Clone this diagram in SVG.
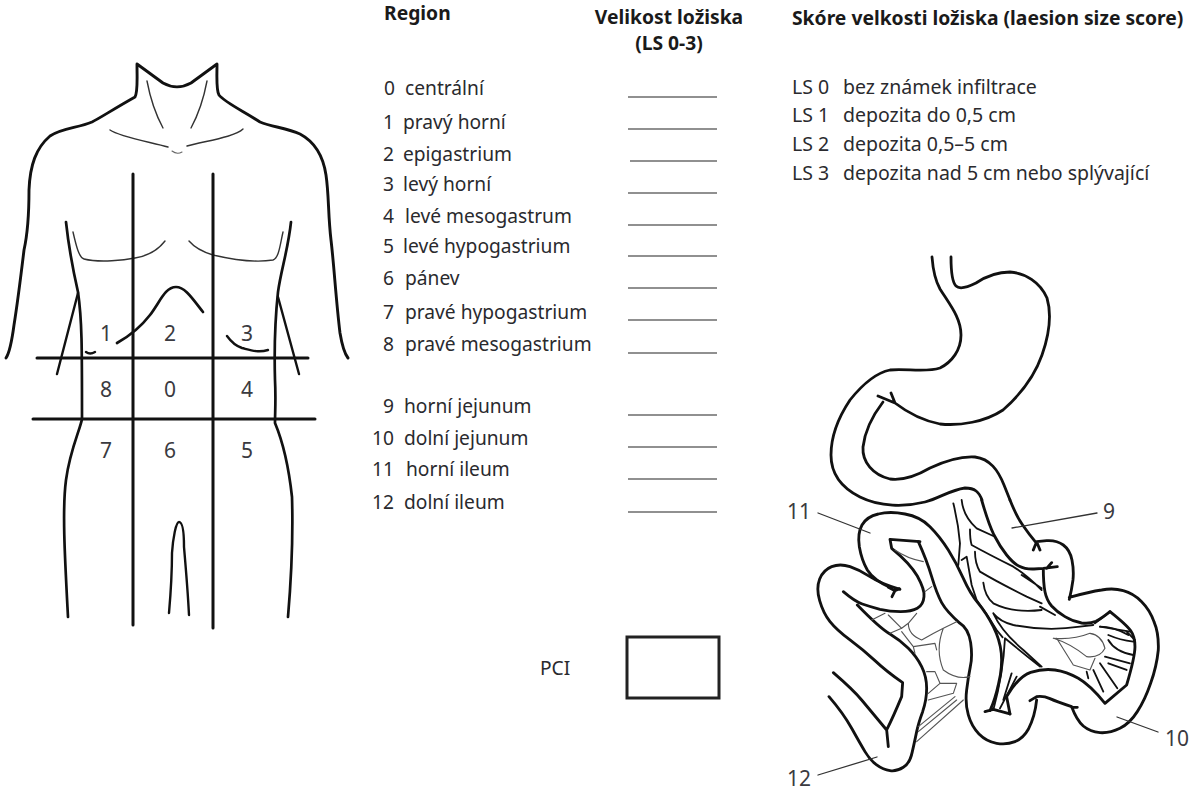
<svg xmlns="http://www.w3.org/2000/svg" width="1190" height="800" viewBox="0 0 1190 800">
<style>
text{font-family:"Noto Sans","Open Sans","Liberation Sans",sans-serif;font-size:19.2px;fill:#2a2a2e}
.b{font-weight:700;fill:#1a1a1a;font-size:19.3px}
.s{font-size:19.5px}
.n{font-size:21px;fill:#3a3a40}
.l{fill:none;stroke:#111;stroke-width:3;stroke-linecap:round;stroke-linejoin:round}
.m{fill:none;stroke:#111;stroke-width:2.4;stroke-linecap:round;stroke-linejoin:round}
.t{fill:none;stroke:#333;stroke-width:1.3;stroke-linecap:round;stroke-linejoin:round}
.g{fill:none;stroke:#666;stroke-width:1.1;stroke-linecap:round;stroke-linejoin:round}
.u{stroke:#222;stroke-width:1.2;fill:none}
.z{fill:none;stroke:#111;stroke-width:8.5;stroke-linecap:round;stroke-linejoin:round}
.y{fill:none;stroke:#111;stroke-width:5.5;stroke-linecap:round;stroke-linejoin:round}
.w{fill:none;stroke:#555;stroke-width:3.4;stroke-linecap:round;stroke-linejoin:round}
</style>
<rect width="1190" height="800" fill="#fff"/>
<g id="body">
<path class="l" d="M6 358C10 352 12 340 14 325C18 300 21 275 24 250C28 232 29 215 29 190C30 165 36 148 50 136C62 128 78 128 92 122C100 118 112 110 135 97C138 92 137 80 137 64L163 83C172 88 182 88 191 83L217 64C217 78 216 90 219 95C224 102 245 112 260 122C272 127 287 128 300 134C315 142 323 155 326 175C329 195 328 215 331 240C334 265 336 300 340 333C342 345 344 353 348 358" style="stroke-width:2.9"/>
<path class="t" d="M147 81C150 97 156 115 163 128M207 81C204 97 198 115 191 128M110 130C120 137 150 142 168 147M243 129C235 137 205 141 187 146" style="stroke-width:1.4"/>
<path class="g" d="M172 151Q177 155 182 152"/>
<path class="l" d="M66 222C69 250 73 270 78 292C82 320 82 345 82 419C80 430 70 450 66 480C62 510 65 560 68 617" style="stroke-width:2.7"/>
<path class="l" d="M291 222C288 250 281 270 278 292C275 320 274 345 275 380C276 400 275 412 275 423C280 435 288 460 292 497C293 530 292 570 288 617" style="stroke-width:2.7"/>
<path class="m" d="M78 293L57 374M278 297L299 374"/>
<path class="t" d="M73 232C76 245 79 258 84 259C100 263 125 260 135 258C148 256 158 250 165 241M283 232C280 245 279 258 273 260C255 263 230 259 213 255C203 252 195 248 189 241" style="stroke-width:1.4"/>
<path class="l" d="M117 343C126 338 140 328 150 315C160 302 165 287 176 287C185 287 192 298 203 312" style="stroke-width:2.7"/>
<path class="m" d="M86 352Q90 355 95 352M227 336C232 343 236 346 242 348C250 350 258 353 268 350"/>
<path class="l" d="M133 174L133 625M213 174L213 628M37 358L308 358M33 419L315 419" style="stroke-width:3"/>
<path class="m" d="M169 613C171 590 172 565 172 553C173 538 176 522 179 522C183 522 184 535 184 547C186 570 188 595 189 615"/>
</g>
<g id="zone-numbers">
<text class="n" x="106" y="341" text-anchor="middle">1</text><text class="n" x="170" y="341" text-anchor="middle">2</text><text class="n" x="247" y="341" text-anchor="middle">3</text>
<text class="n" x="106" y="397" text-anchor="middle">8</text><text class="n" x="170" y="397" text-anchor="middle">0</text><text class="n" x="247" y="397" text-anchor="middle">4</text>
<text class="n" x="106" y="458" text-anchor="middle">7</text><text class="n" x="170" y="458" text-anchor="middle">6</text><text class="n" x="247" y="458" text-anchor="middle">5</text>
</g>
<g id="table">
<text class="b" x="384" y="20">Region</text>
<text class="b" x="669" y="24" text-anchor="middle">Velikost ložiska</text>
<text class="b" x="669" y="50" text-anchor="middle">(LS 0-3)</text>
<text x="384" y="95">0</text><text x="405" y="95">centrální</text>
<text x="383" y="129">1</text><text x="403" y="129">pravý horní</text>
<text x="383" y="161">2</text><text x="403" y="161">epigastrium</text>
<text x="383" y="191">3</text><text x="403" y="191">levý horní</text>
<text x="383" y="223">4</text><text x="405" y="223">levé mesogastrum</text>
<text x="383" y="253">5</text><text x="403" y="253">levé hypogastrium</text>
<text x="383" y="285">6</text><text x="405" y="285">pánev</text>
<text x="383" y="319">7</text><text x="405" y="319">pravé hypogastrium</text>
<text x="383" y="351">8</text><text x="405" y="351">pravé mesogastrium</text>
<text x="383" y="413">9</text><text x="404" y="413">horní jejunum</text>
<text x="372" y="445">10</text><text x="404" y="445">dolní jejunum</text>
<text x="372" y="476">11</text><text x="406" y="476">horní ileum</text>
<text x="372" y="509">12</text><text x="404" y="509">dolní ileum</text>
<path class="u" d="M628 97H717M628 129H717M630 161H717M628 193H717M628 225H717M628 256H717M628 288H717M628 320H717M628 353H717M628 415H717M628 447H717M628 479H717M628 512H717"/>
</g>
<g id="score-legend">
<text class="b" x="792" y="25">Skóre velkosti ložiska (laesion size score)</text>
<text class="s" x="792" y="94">LS 0</text><text class="s" x="843" y="94">bez známek infiltrace</text>
<text class="s" x="792" y="122">LS 1</text><text class="s" x="843" y="122">depozita do 0,5 cm</text>
<text class="s" x="792" y="151">LS 2</text><text class="s" x="843" y="151">depozita 0,5–5 cm</text>
<text class="s" x="792" y="180">LS 3</text><text class="s" x="843" y="180">depozita nad 5 cm nebo splývající</text>
</g>
<g id="pci">
<text x="540" y="675">PCI</text>
<rect x="627" y="637" width="92" height="61" fill="none" stroke="#222" stroke-width="3"/>
</g>
<g id="stomach">
<path class="l" style="stroke-width:2.8" d="M932 257C933 270 935 280 940 289C950 305 961 318 961 335C961 350 952 362 940 368C925 373 905 368 890 370C875 373 862 385 850 400C838 418 831 435 831 455C831 475 842 488 860 497C880 507 905 507 925 502C940 498 950 490 965 488C975 488 979 492 982 500"/>
<path class="l" style="stroke-width:2.8" d="M951 257C951 270 952 282 956 286C960 290 968 287 976 283C985 277 995 272 1010 272C1025 273 1040 282 1047 298C1052 315 1049 335 1042 355C1035 375 1020 395 1003 410C985 422 960 426 940 424C925 421 908 413 895 403L891 393M878 396L895 403"/>
<path class="l" style="stroke-width:2.8" d="M883 402C873 415 865 430 863 447C862 462 873 475 890 479C905 481 918 475 930 468C945 461 960 456 975 457C990 459 998 470 1004 485L1010 500"/>
</g>
<g id="bowel" transform="translate(780 500) scale(.3333)">
<path class="z" d="M605 0Q625 70 642 105Q660 140 680 165Q700 190 718 199Q735 208 762 207L790 205L832 200M815 188L800 205M790 205Q790 250 795 275Q800 300 815 318Q830 335 855 350Q880 365 905 369Q930 372 948 364Q965 355 990 335"/>
<path class="z" d="M690 0Q710 50 728 75Q745 100 770 130M760 150L770 125L780 150M770 125L800 122Q830 120 850 135Q870 150 876 180Q882 210 879 240Q875 270 868 298M868 292Q930 275 965 270Q1000 263 1030 272Q1060 280 1085 305Q1110 330 1122 365Q1137 400 1135 450Q1130 500 1112 550Q1095 600 1072 635Q1050 670 1020 685Q990 700 960 698Q930 695 910 678Q890 660 875 620M875 622H892M875 620Q830 605 810 596Q790 587 770 590L750 602M770 600Q765 650 745 688Q730 715 705 725Q680 735 650 730Q620 725 597 702Q575 680 565 645Q555 610 560 570Q565 530 571 500Q578 470 572 428Q565 385 540 370Q500 335 485 308Q470 280 455 230Q440 180 415 125"/>
<path class="z" d="M325 262L345 272L336 290M358 266L345 272M335 265Q280 240 262 210Q245 180 238 140Q232 100 246 75Q260 50 295 42Q330 33 375 42Q420 50 450 80Q480 110 505 150Q530 190 550 235Q570 280 595 310Q620 340 640 380Q660 420 664 460Q668 500 656 550Q645 600 630 632M615 635L640 628L690 642"/>
<path class="z" d="M420 125L330 118L335 145Q390 190 412 228Q435 270 432 290Q430 315 412 325Q395 335 362 335Q330 335 300 328Q270 320 247 312Q225 305 190 275"/>
<path class="z" d="M360 268Q300 250 270 230Q240 210 210 200Q180 190 155 200Q130 210 119 237Q108 265 119 302Q130 340 150 365Q170 390 210 420Q250 450 285 482Q320 515 368 548L365 590Q340 650 320 690L325 740M160 518Q220 570 245 600Q270 630 320 690"/>
<path class="z" d="M147 590Q190 640 215 685Q240 730 255 755Q270 780 290 795Q310 810 330 812Q350 815 370 802Q390 790 397 755Q405 720 410 695Q415 670 428 635Q440 600 440 565Q440 530 425 500Q410 470 385 445Q360 420 330 402Q300 385 232 315"/>
<path class="z" d="M690 642L680 590Q715 530 752 517Q790 505 825 510Q860 515 895 535Q930 555 975 610L1040 555Q1065 470 1065 440Q1065 410 1052 392Q1040 375 990 335"/>
<path class="y" d="M520 10Q535 70 540 130L535 195M545 0Q550 50 590 85L640 108M570 88Q570 120 575 135Q620 160 700 200Q740 225 785 270M585 155Q585 190 600 215Q650 245 740 290L785 310M610 248Q615 290 640 310Q700 340 785 330M545 180L560 170L575 255L590 300Q620 340 650 390L668 412M640 340Q660 365 700 375Q800 395 900 380L940 375M640 340Q665 395 730 450L785 500M675 415Q670 520 640 630M675 415Q730 460 780 500M695 520L670 600M710 530L660 625M725 225L785 265M780 320L825 345M945 370L990 335M960 380L1050 395"/>
<path class="y" d="M1040 395L1065 420M960 380Q1000 380 1045 405M985 405Q1020 420 1060 425M985 420Q1005 455 1060 465M975 470L1050 490M985 490L1040 510M960 490L1012 565M940 510L970 575M920 515L925 535"/>
<path class="w" d="M820 415Q880 420 930 400Q965 405 975 445Q960 475 920 470Q870 430 820 415ZM830 415L880 495L930 510M945 475L930 510"/>
<path class="w" d="M275 360L315 340M325 345L365 385M330 400L365 385L385 370L410 340M385 370Q385 405 425 420Q460 400 490 385L530 365M490 385Q465 450 490 510Q530 540 570 530M365 395L400 440L465 430L470 450M400 440L405 460M440 515L465 515L480 550L530 550L520 580L445 600M480 550L445 580M525 590L415 680M530 600L415 695M550 600L410 725M345 150Q380 175 430 185M435 275L455 260"/>
</g>
<g id="connectors">
<path class="t" d="M818 513L870 533M1097 513L1012 528M1158 732L1117 717M818 775L877 757"/>
</g>
<g id="gut-labels">
<text class="n" x="787" y="519">11</text>
<text class="n" x="1103" y="519">9</text>
<text class="n" x="1165" y="746">10</text>
<text class="n" x="787" y="786">12</text>
</g>
</svg>
